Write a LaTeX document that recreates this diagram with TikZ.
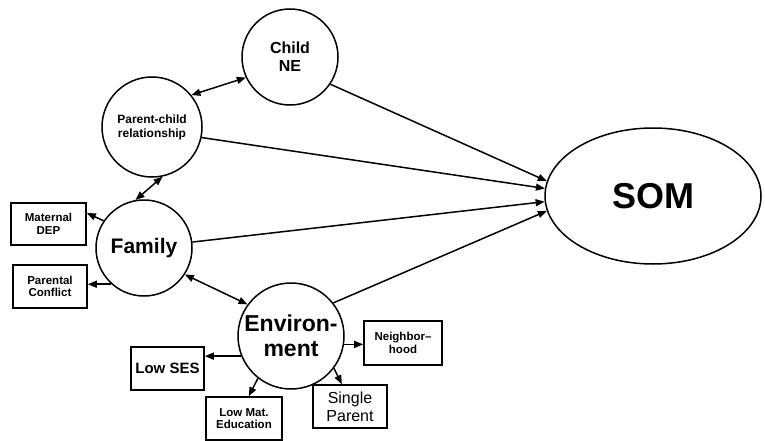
\documentclass[tikz,border=0pt]{standalone}
\usepackage{fontspec}
\setmainfont{Liberation Sans}
\usetikzlibrary{arrows.meta,shapes.geometric}
\begin{document}
\begin{tikzpicture}[x=1pt,y=-1pt,
  circ/.style={circle,draw,line width=1.5pt,inner sep=0pt,align=center,font=\bfseries},
  box/.style={rectangle,draw,line width=1.6pt,inner sep=0pt,align=center,font=\bfseries\fontsize{11.5}{12.5}\selectfont},
  arr/.style={line width=1.5pt,-{Triangle[length=9pt,width=7pt]}},
  darr/.style={line width=1.5pt,{Triangle[length=9pt,width=7pt]}-{Triangle[length=9pt,width=7pt]}}]
\useasboundingbox (0,0) rectangle (765,441);
\fill[white] (0,0) rectangle (765,441);
% main nodes
\node[circ,minimum size=96pt,font=\bfseries\fontsize{16}{18}\selectfont] (child) at (290,57) {Child\\NE};
\node[circ,minimum size=100pt,font=\bfseries\fontsize{12}{14}\selectfont] (pc) at (152,127) {Parent-child\\relationship};
\node[circ,minimum size=96pt,font=\bfseries\fontsize{21}{23}\selectfont] (fam) at (144,248) {Family};
\node[circ,minimum size=106pt,font=\bfseries\fontsize{23}{25}\selectfont] (env) at (291,336) {Environ-\\ment};
\node[ellipse,draw,line width=1.5pt,inner sep=0pt,minimum width=216pt,minimum height=136pt,font=\bfseries\fontsize{36}{38}\selectfont] (som) at (653,196) {SOM};
% boxes
\node[box,minimum width=75pt,minimum height=42pt] (md) at (48.5,224) {Maternal\\DEP};
\node[box,minimum width=74pt,minimum height=43pt] (pcf) at (50,286.5) {Parental\\Conflict};
\node[box,minimum width=73pt,minimum height=43pt,font=\bfseries\fontsize{15}{17}\selectfont] (ses) at (167.5,368.5) {Low SES};
\node[box,minimum width=76pt,minimum height=43pt] (lme) at (244,418.5) {Low Mat.\\Education};
\node[box,minimum width=74pt,minimum height=43pt,font=\fontsize{16}{18}\selectfont] (sp) at (350,406.5) {Single\\Parent};
\node[box,minimum width=78pt,minimum height=44pt] (nb) at (403,343) {Neighbor--\\hood};
% double arrows
\draw[darr] (pc.39) -- (child.205);
\draw[darr] (pc.-78) -- (fam.100);
\draw[darr] (fam.-33) -- (env.144);
% to SOM
\draw[arr] (child.-34) -- (som.172.5);
\draw[arr] (pc.-12) -- (som.176.8);
\draw[arr] (fam.7) -- (som.183.7);
\draw[arr] (env.38) -- (som.188.6);
% family indicators
\draw[arr] (fam.146) -- (md.16);
\draw[arr] (fam.228) -- (fam.228 -| pcf.east);
% environment indicators
\draw[arr] (env.202) -- (env.202 -| ses.east);
\draw[arr] (env.232) -- (lme.78);
\draw[arr] (env.-37) -- (sp.110);
\draw[arr] (env.-9) -- (env.-9 -| nb.west);
\end{tikzpicture}
\end{document}
